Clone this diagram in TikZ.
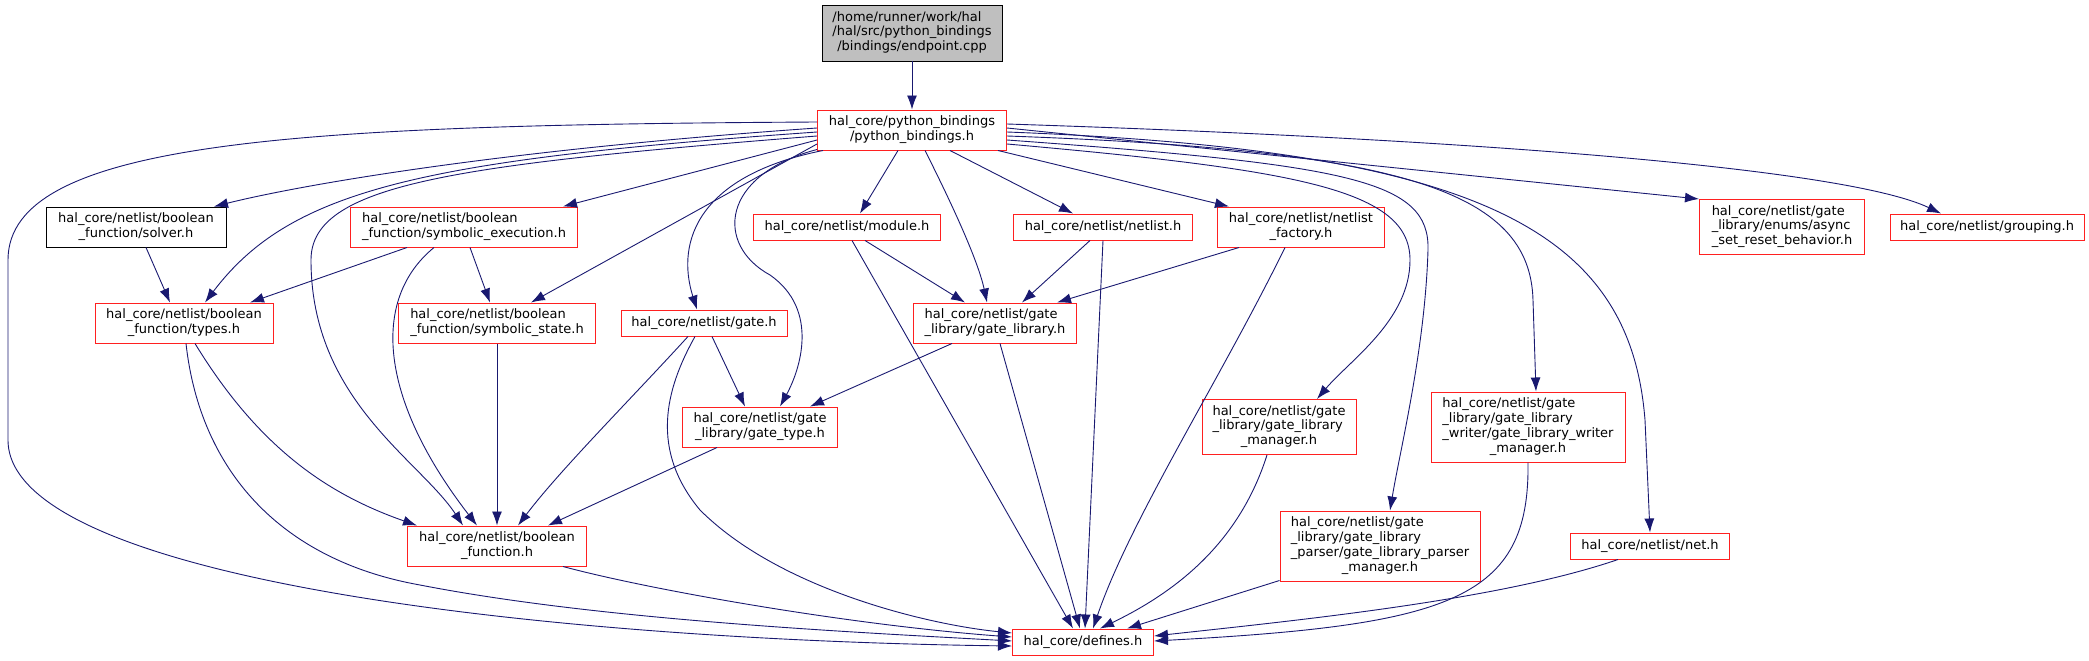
\documentclass[tikz,border=0pt]{standalone}
\usepackage{fontspec}
\setmainfont{DejaVu Sans}
\usepackage{tikz}
\usetikzlibrary{arrows.meta,calc}
\definecolor{edgeblue}{HTML}{191970}
\definecolor{rootgray}{HTML}{BFBFBF}
\definecolor{hdrred}{HTML}{FF2020}
\newcommand{\graphfont}{\fontsize{13}{14.8}\selectfont}
\newcommand{\flines}[2]{\begin{tabular}{@{}l@{}}#1\\\multicolumn{1}{@{}c@{}}{#2}\end{tabular}}

\begin{document}
\begin{tikzpicture}[x=1pt,y=-1pt]
  \path[use as bounding box] (0,0) rectangle (2089,661);
  \tikzset{
    rootfile/.style={draw=black,fill=rootgray,line width=0.9pt,inner sep=0pt,font=\graphfont},
    leaffile/.style={draw=black,fill=white,line width=0.9pt,inner sep=0pt,font=\graphfont},
    hdrfile/.style={draw=hdrred,fill=white,line width=1pt,inner sep=0pt,font=\graphfont},
    dep/.style={-{Latex[length=14pt,width=10pt]},edgeblue,line width=0.9pt}
  }
  % rank 0 and 1
  \node[rootfile,minimum width=180,minimum height=56] (endpoint) at (912,33) {\flines{/home/runner/work/hal\\/hal/src/python\_bindings}{/bindings/endpoint.cpp}};
  \node[hdrfile,minimum width=189,minimum height=40] (pybind) at (912,130) {\flines{hal\_core/python\_bindings}{/python\_bindings.h}};
  % rank 2
  \node[leaffile,minimum width=180,minimum height=40] (solver) at (136,227) {\flines{hal\_core/netlist/boolean}{\_function/solver.h}};
  \node[hdrfile,minimum width=227,minimum height=40] (symexec) at (464,227) {\flines{hal\_core/netlist/boolean}{\_function/symbolic\_execution.h}};
  \node[hdrfile,minimum width=187,minimum height=26] (module) at (847,227) {hal\_core/netlist/module.h};
  \node[hdrfile,minimum width=179,minimum height=26] (netlist) at (1103,227) {hal\_core/netlist/netlist.h};
  \node[hdrfile,minimum width=167,minimum height=40] (factory) at (1301,227) {\flines{hal\_core/netlist/netlist}{\_factory.h}};
  \node[hdrfile,minimum width=165,minimum height=55] (async) at (1782,227) {\flines{hal\_core/netlist/gate\\\_library/enums/async}{\_set\_reset\_behavior.h}};
  \node[hdrfile,minimum width=194,minimum height=26] (grouping) at (1987,227) {hal\_core/netlist/grouping.h};
  % rank 3
  \node[hdrfile,minimum width=178,minimum height=40] (types) at (184,323) {\flines{hal\_core/netlist/boolean}{\_function/types.h}};
  \node[hdrfile,minimum width=197,minimum height=40] (symstate) at (497,323) {\flines{hal\_core/netlist/boolean}{\_function/symbolic\_state.h}};
  \node[hdrfile,minimum width=166,minimum height=26] (gate) at (704,323) {hal\_core/netlist/gate.h};
  \node[hdrfile,minimum width=163,minimum height=40] (gatelib) at (995,323) {\flines{hal\_core/netlist/gate}{\_library/gate\_library.h}};
  % rank 4
  \node[hdrfile,minimum width=155,minimum height=40] (gatetype) at (760,427) {\flines{hal\_core/netlist/gate}{\_library/gate\_type.h}};
  \node[hdrfile,minimum width=154,minimum height=55] (libmgr) at (1279,427) {\flines{hal\_core/netlist/gate\\\_library/gate\_library}{\_manager.h}};
  \node[hdrfile,minimum width=194,minimum height=70] (writer) at (1528,427) {\flines{hal\_core/netlist/gate\\\_library/gate\_library\\\_writer/gate\_library\_writer}{\_manager.h}};
  % rank 5
  \node[hdrfile,minimum width=179,minimum height=40] (boolfn) at (497,546) {\flines{hal\_core/netlist/boolean}{\_function.h}};
  \node[hdrfile,minimum width=200,minimum height=70] (parser) at (1380,546) {\flines{hal\_core/netlist/gate\\\_library/gate\_library\\\_parser/gate\_library\_parser}{\_manager.h}};
  \node[hdrfile,minimum width=159,minimum height=26] (net) at (1650,546) {hal\_core/netlist/net.h};
  % rank 6
  \node[hdrfile,minimum width=141,minimum height=26] (defines) at (1083,642) {hal\_core/defines.h};

  \draw[dep] (endpoint) -- (pybind);
  % python_bindings.h, left side
  \draw[dep] ($(pybind.west)+(0,-8)$) .. controls (300,125) and (8,140) .. (8,260) -- (8,440) .. controls (8,580) and (550,640) .. ($(defines.west)+(0,4)$);
  \draw[dep] ($(pybind.west)+(0,-2)$) .. controls (500,150) and (300,185) .. ($(solver.north)+(78,0)$);
  \draw[dep] ($(pybind.west)+(0,2)$) .. controls (420,160) and (290,190) .. ($(types.north)+(21,0)$);
  \draw[dep] ($(pybind.west)+(0,6)$) .. controls (450,165) and (311,185) .. (311,260) .. controls (311,400) and (420,460) .. ($(boolfn.north)+(-34,0)$);
  \draw[dep] ($(pybind.west)+(0,10)$) -- ($(symexec.north)+(99,0)$);
  \draw[dep] ($(pybind.west)+(0,14)$) -- ($(symstate.north)+(34,0)$);
  \draw[dep] ($(pybind.south west)+(6,0)$) .. controls (700,175) and (675,240) .. ($(gate.north)+(-7,0)$);
  \draw[dep] ($(pybind.south west)+(0,-1)$) .. controls (720,175) and (715,245) .. (770,275) .. controls (820,310) and (800,370) .. ($(gatetype.north)+(20,0)$);
  % python_bindings.h, bottom
  \draw[dep] ($(pybind.south)+(-14,0)$) -- ($(module.north)+(13,0)$);
  \draw[dep] ($(pybind.south)+(13,0)$) .. controls (950,200) and (978,260) .. ($(gatelib.north)+(-8,0)$);
  \draw[dep] ($(pybind.south)+(38,0)$) -- ($(netlist.north)+(-30,0)$);
  \draw[dep] ($(pybind.south)+(86,0)$) -- ($(factory.north)+(-72,0)$);
  % python_bindings.h, right side
  \draw[dep] ($(pybind.east)+(0,-6)$) .. controls (1500,140) and (1850,170) .. ($(grouping.north)+(-46,0)$);
  \draw[dep] ($(pybind.east)+(0,-2)$) -- (async.north west);
  \draw[dep] ($(pybind.east)+(0,2)$) .. controls (1480,150) and (1630,230) .. (1645,420) -- (net.north);
  \draw[dep] ($(pybind.east)+(0,6)$) .. controls (1400,150) and (1530,190) .. (1533,300) -- ($(writer.north)+(8,0)$);
  \draw[dep] ($(pybind.east)+(0,10)$) .. controls (1350,165) and (1430,180) .. (1428,250) .. controls (1425,350) and (1400,450) .. ($(parser.north)+(10,0)$);
  \draw[dep] ($(pybind.east)+(0,14)$) .. controls (1300,170) and (1410,190) .. (1410,260) .. controls (1410,320) and (1350,360) .. ($(libmgr.north)+(38,0)$);
  % rank 2
  \draw[dep] ($(solver.south)+(10,0)$) -- ($(types.north)+(-14,0)$);
  \draw[dep] ($(symexec.south)+(-57,0)$) -- ($(types.north)+(66,0)$);
  \draw[dep] ($(symexec.south)+(-30,0)$) .. controls (370,300) and (380,400) .. ($(boolfn.north)+(-20,0)$);
  \draw[dep] ($(symexec.south)+(6,0)$) -- ($(symstate.north)+(-7,0)$);
  \draw[dep] ($(module.south)+(18,0)$) -- ($(gatelib.north)+(-30,0)$);
  \draw[dep] ($(module.south)+(5,0)$) -- ($(defines.north)+(-10,0)$);
  \draw[dep] ($(netlist.south)+(-13,0)$) -- ($(gatelib.north)+(27,0)$);
  \draw[dep] (netlist.south) -- ($(defines.north)+(2,0)$);
  \draw[dep] ($(factory.south)+(-62,0)$) -- ($(gatelib.north)+(62,0)$);
  \draw[dep] ($(factory.south)+(-16,0)$) .. controls (1220,380) and (1130,520) .. ($(defines.north)+(10,0)$);
  % rank 3
  \draw[dep] ($(types.south)+(11,0)$) .. controls (260,450) and (330,495) .. ($(boolfn.north)+(-80,0)$);
  \draw[dep] ($(types.south)+(2,0)$) .. controls (200,470) and (280,560) .. (420,585) .. controls (600,620) and (850,632) .. ($(defines.west)+(0,-1)$);
  \draw[dep] (symstate.south) -- (boolfn.north);
  \draw[dep] ($(gate.south)+(8,0)$) -- ($(gatetype.north)+(-15,0)$);
  \draw[dep] ($(gate.south)+(-16,0)$) .. controls (630,400) and (560,470) .. ($(boolfn.north)+(21,0)$);
  \draw[dep] ($(gate.south)+(-9,0)$) .. controls (665,390) and (650,450) .. (700,510) .. controls (780,590) and (930,625) .. ($(defines.west)+(0,-9)$);
  \draw[dep] ($(gatelib.south)+(-43,0)$) -- ($(gatetype.north)+(50,0)$);
  \draw[dep] ($(gatelib.south)+(5,0)$) -- ($(defines.north)+(-3,0)$);
  % rank 4
  \draw[dep] ($(gatetype.south)+(-43,0)$) -- ($(boolfn.north)+(51,0)$);
  \draw[dep] ($(libmgr.south)+(-12,0)$) .. controls (1240,540) and (1180,590) .. ($(defines.north)+(17,0)$);
  \draw[dep] (writer.south) .. controls (1530,600) and (1450,625) .. ($(defines.east)+(0,-1)$);
  % rank 5
  \draw[dep] ($(boolfn.south)+(66,0)$) .. controls (650,590) and (850,625) .. ($(defines.west)+(0,-5)$);
  \draw[dep] ($(parser.south west)+(0,-1)$) -- ($(defines.north)+(44,0)$);
  \draw[dep] ($(net.south)+(-32,0)$) .. controls (1500,600) and (1300,620) .. ($(defines.east)+(0,-6)$);
\end{tikzpicture}
\end{document}
